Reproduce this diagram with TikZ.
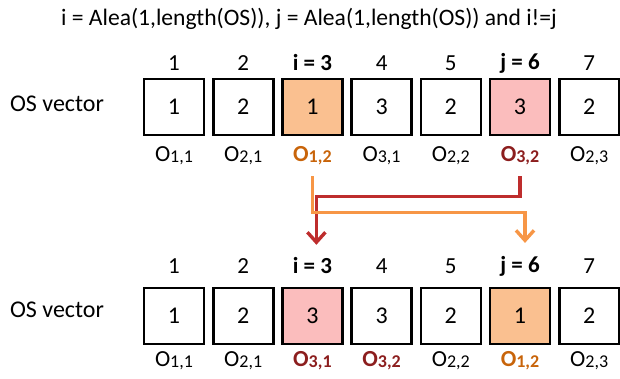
\documentclass[tikz,border=0pt]{standalone}
\usepackage{fontspec}
\setmainfont{Carlito}
\usetikzlibrary{arrows.meta}
\definecolor{geneorange}{HTML}{FAC090}
\definecolor{genepink}{HTML}{FBBDBD}
\definecolor{lineorange}{HTML}{F79646}
\definecolor{linered}{HTML}{BE2D2D}
\definecolor{txtorange}{HTML}{C8640A}
\definecolor{txtred}{HTML}{8C1E1E}
% operation O_{j,k}
\newcommand{\oper}[2]{O\raisebox{-0.12ex}{\fontsize{9}{9}\selectfont #1,#2}}

\begin{document}
\begin{tikzpicture}[x=0.5pt, y=-0.5pt]
        % Styles
        \tikzset{
            gene/.style={rectangle, draw, line width=1.3pt, minimum width=30pt,
                         minimum height=28pt, inner sep=0pt, font=\fontsize{12}{14}\selectfont},
            idx/.style={font=\fontsize{11.5}{14}\selectfont},
            oplabel/.style={font=\fontsize{11.5}{14}\selectfont},
            swap/.style={line width=1.7pt, -{Straight Barb[length=5pt, width=9pt]}}
        }
        \useasboundingbox (0,0) rectangle (620,379);

        \node[font=\fontsize{11.8}{14}\selectfont] (title) at (309,19)
            {i = Alea(1,length(OS)), j = Alea(1,length(OS)) and i!=j};

        % Vecteur avant permutation
        \node[anchor=west, font=\fontsize{12}{14}\selectfont] (vecA) at (3,104) {OS vector};
        \foreach \k/\v/\col/\lab/\lcol/\ix in {
                1/1/white/{\oper11}/black/1, 2/2/white/{\oper21}/black/2,
                3/1/geneorange/{\textbf{\oper12}}/txtorange/{\textbf{i = 3}},
                4/3/white/{\oper31}/black/4, 5/2/white/{\oper22}/black/5,
                6/3/genepink/{\textbf{\oper32}}/txtred/{\textbf{j = 6}},
                7/2/white/{\oper23}/black/7} {
            \node[gene, fill=\col] (a\k) at ({174+69.2*(\k-1)},107) {\v};
            \node[idx] (ai\k) at ({174+69.2*(\k-1)},63) {\ix};
            \node[oplabel, text=\lcol] (al\k) at ({174+69.2*(\k-1)},156) {\lab};
        }

        % Vecteur apres permutation
        \node[anchor=west, font=\fontsize{12}{14}\selectfont] (vecB) at (3,310) {OS vector};
        \foreach \k/\v/\col/\lab/\lcol/\ix in {
                1/1/white/{\oper11}/black/1, 2/2/white/{\oper21}/black/2,
                3/3/genepink/{\textbf{\oper31}}/txtred/{\textbf{i = 3}},
                4/3/white/{\textbf{\oper32}}/txtred/4, 5/2/white/{\oper22}/black/5,
                6/1/geneorange/{\textbf{\oper12}}/txtorange/{\textbf{j = 6}},
                7/2/white/{\oper23}/black/7} {
            \node[gene, fill=\col] (b\k) at ({174+69.2*(\k-1)},316) {\v};
            \node[idx] (bi\k) at ({174+69.2*(\k-1)},266) {\ix};
            \node[oplabel, text=\lcol] (bl\k) at ({174+69.2*(\k-1)},361) {\lab};
        }

        % Permutation
        \coordinate (redA) at ([xshift=2pt, yshift=3pt]bi3.north);
        \coordinate (oraB) at ([xshift=2.5pt, yshift=3pt]bi6.north);
        \draw[swap, linered] ([yshift=-2pt]al6.south) |- ++(0,20) -| (redA);
        \draw[swap, lineorange] ([yshift=-2pt]al3.south) |- ++(0,36) -| (oraB);
\end{tikzpicture}
\end{document}
